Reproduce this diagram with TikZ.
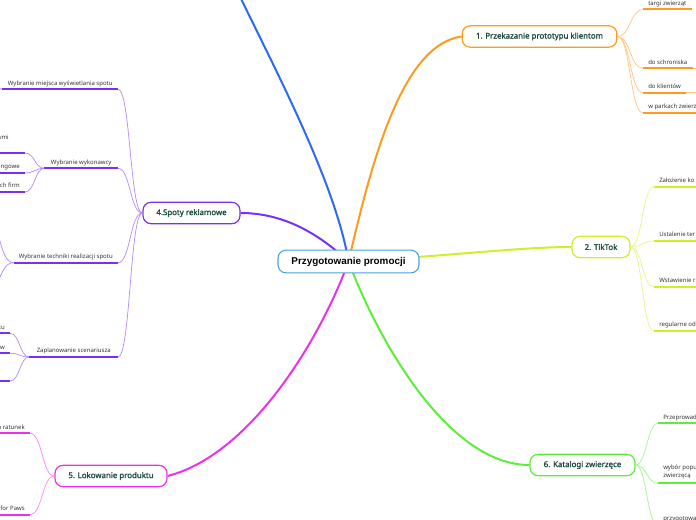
\documentclass[tikz,border=0pt]{standalone}
\usepackage{fontspec}
\setmainfont{Noto Sans}
\newfontfamily\rootfont{Liberation Sans}
\newfontfamily\topicfont{Noto Sans}[FakeBold=1.6]
\usepackage{xcolor}
\definecolor{mmblue}{HTML}{2A6AF5}
\definecolor{mmroot}{HTML}{4AA0DD}
\definecolor{mmorange}{HTML}{FF9A1F}
\definecolor{mmlime}{HTML}{D2EE2A}
\definecolor{mmgreen}{HTML}{5CEE3A}
\definecolor{mmpink}{HTML}{EE30EE}
\definecolor{mmviolet}{HTML}{7A30F0}
\definecolor{mmtext}{HTML}{1D4D3D}
\definecolor{mmleaf}{HTML}{333333}
\usepackage{tikz}
\usetikzlibrary{backgrounds}
\tikzset{
  root/.style={draw=mmroot, line width=0.8pt, fill=white, rounded corners=6pt,
    minimum height=17pt, text=black, font=\rootfont\bfseries\fontsize{7.4}{9}\selectfont},
  topic/.style={draw=#1, line width=0.9pt, fill=white, rounded corners=6pt,
    minimum height=16pt, text=mmtext, font=\topicfont\fontsize{5.9}{7}\selectfont},
  branch/.style={draw=#1, line width=1.5pt},
  twig/.style={draw=#1!55, line width=0.55pt},
  leaf/.style={font=\fontsize{4.5}{5.3}\selectfont, text=mmleaf, inner xsep=3.75pt,
    inner ysep=2pt, text height=3.3pt, text depth=1pt},
  leafR/.style={leaf, anchor=south west, align=left},
  leafL/.style={leaf, anchor=south east},
  leafbar/.style={draw=#1, line width=1.5pt},
}

\begin{document}
\begin{tikzpicture}[x=0.75pt, y=-0.75pt]
  \useasboundingbox (0,0) rectangle (696,520);
  \clip (0,0) rectangle (696,520);

  % Central topic and main topics
  \node[root, minimum width=105.75pt] (promo) at (348.5,261.5) {Przygotowanie promocji};
  \node[topic=mmorange, minimum width=116pt] (prototyp) at (539.5,36.5) {1. Przekazanie prototypu klientom};
  \node[topic=mmlime, minimum width=43.5pt] (tiktok) at (601,247) {2. TikTok};
  \node[topic=mmviolet, minimum width=72.75pt] (spoty) at (191.5,213) {4.Spoty reklamowe};
  \node[topic=mmpink, minimum width=84pt] (lokowanie) at (111,476) {5. Lokowanie produktu};
  \node[topic=mmgreen, minimum width=78.75pt] (katalogi) at (582.5,465) {6. Katalogi zwierzęce};
  \coordinate (third) at (232,-20);

  % Main branches
  \begin{scope}[on background layer]
    \draw[branch=mmblue] (promo.center) .. controls (335,180) and (270,60) .. (third);
    \draw[branch=mmorange] (promo.center) .. controls (370,170) and (400,45) .. (prototyp.west);
    \draw[branch=mmlime] (promo.center) .. controls (450,256) and (520,247) .. (tiktok.west);
    \draw[branch=mmgreen] (promo.center) .. controls (380,345) and (450,465) .. (katalogi.west);
    \draw[branch=mmpink] (promo.center) .. controls (320,340) and (250,455) .. (lokowanie.east);
    \draw[branch=mmviolet] (spoty.east) .. controls (285,213) and (320,235) .. (promo.center);
  \end{scope}

  % --- 1. Przekazanie prototypu ---
  \node[leafR] (targi) at (643,9.5) {targi zwierząt};
  \node[leafR] (schronisko) at (643,68.3) {do schroniska};
  \node[leafR] (klienci) at (643,92.7) {do klientów};
  \node[leafR] (parki) at (643,113) {w parkach zwierz};
  \coordinate (schroniskoX) at (720,68.3);
  \coordinate (klienciX) at (720,92.7);
  \foreach \n in {targi,schronisko,klienci,parki}
    \draw[twig=mmorange] (prototyp.east) .. controls +(13,0) and +(-13,0) .. (\n.south west);
  \draw[twig=mmorange] (schronisko.south east) -- (schroniskoX);
  \draw[twig=mmorange] (klienci.south east) -- (klienciX);

  % --- 2. TikTok ---
  \node[leafR] (konto) at (654,186.7) {Założenie ko};
  \node[leafR] (termin) at (654,241) {Ustalenie ter};
  \node[leafR] (wstawki) at (654,286.7) {Wstawienie r};
  \node[leafR] (regularne) at (654,331) {regularne od};
  \foreach \n in {konto,termin,wstawki,regularne}
    \draw[twig=mmlime] (tiktok.east) .. controls +(12,0) and +(-12,0) .. (\n.south west);

  % --- 6. Katalogi ---
  \node[leafR] (ankieta) at (658,423.3) {Przeprowadz};
  \node[leafR, text depth=2.5pt] (wybor) at (658,483.3) {wybór popu\\zwierzęcą};
  \node[leafR] (katalog) at (658,525) {przygotowanie};
  \foreach \n in {ankieta,wybor,katalog}
    \draw[twig=mmgreen] (katalogi.east) .. controls +(11,0) and +(-11,0) .. (\n.south west);

  % --- 4. Spoty reklamowe ---
  \node[leafL, minimum width=86.25pt] (miejsce) at (118,89.3) {Wybranie miejsca wyświetlania spotu};
  \node[leafL, minimum width=54.75pt] (wykonawca) at (118,168.3) {Wybranie wykonawcy};
  \node[leafL, minimum width=77.25pt] (technika) at (118,262.7) {Wybranie techniki realizacji spotu};
  \node[leafL, minimum width=66pt] (scenariusz) at (118,357) {Zaplanowanie scenariusza};
  \foreach \n in {miejsce,wykonawca,technika,scenariusz}
    \draw[twig=mmviolet] (spoty.west) .. controls +(-12.5,0) and +(12.5,0) .. (\n.south east);

  \node[leafL, inner xsep=12pt, text depth=8pt] (artysci) at (25,153) {ymi};
  \node[leafL] (castingi) at (25,173) {ingowe};
  \node[leafL] (firmy) at (25,192) {ech firm};
  \foreach \n in {artysci,castingi,firmy}
    \draw[twig=mmviolet] (wykonawca.south west) .. controls +(-10,0) and +(10,0) .. (\n.south east);

  \node[leafL] (etapA) at (10,333.3) {tu};
  \node[leafL] (etapB) at (10,353.3) {ów};
  \node[leafL, minimum width=20pt] (etapC) at (10,381) {};
  \foreach \n in {etapA,etapB,etapC}
    \draw[twig=mmviolet] (scenariusz.south west) .. controls +(-10,0) and +(10,0) .. (\n.south east);

  \coordinate (miejsceX) at (-25,60);
  \coordinate (technikaA) at (-15,215);
  \coordinate (technikaB) at (-15,295);
  \draw[twig=mmviolet] (miejsce.south west) .. controls +(-14,0) and +(14,0) .. (miejsceX);
  \foreach \n in {technikaA,technikaB}
    \draw[twig=mmviolet] (technika.south west) .. controls +(-15,0) and +(15,0) .. (\n);

  % --- 5. Lokowanie produktu ---
  \node[leafL] (ratunek) at (30,433.3) {a ratunek};
  \node[leafL] (paws) at (30,514.7) {for Paws};
  \foreach \n in {ratunek,paws}
    \draw[twig=mmpink] (lokowanie.west) .. controls +(-12.5,0) and +(12.5,0) .. (\n.south east);

  % Leaf underlines
  \foreach \n/\c in {targi/mmorange, schronisko/mmorange, klienci/mmorange, parki/mmorange,
      konto/mmlime, termin/mmlime, wstawki/mmlime, regularne/mmlime,
      ankieta/mmgreen, wybor/mmgreen, katalog/mmgreen,
      miejsce/mmviolet, wykonawca/mmviolet, technika/mmviolet, scenariusz/mmviolet,
      artysci/mmviolet, castingi/mmviolet, firmy/mmviolet, etapA/mmviolet, etapB/mmviolet, etapC/mmviolet,
      ratunek/mmpink, paws/mmpink}
    \draw[leafbar=\c] (\n.south west) -- (\n.south east);
\end{tikzpicture}
\end{document}
